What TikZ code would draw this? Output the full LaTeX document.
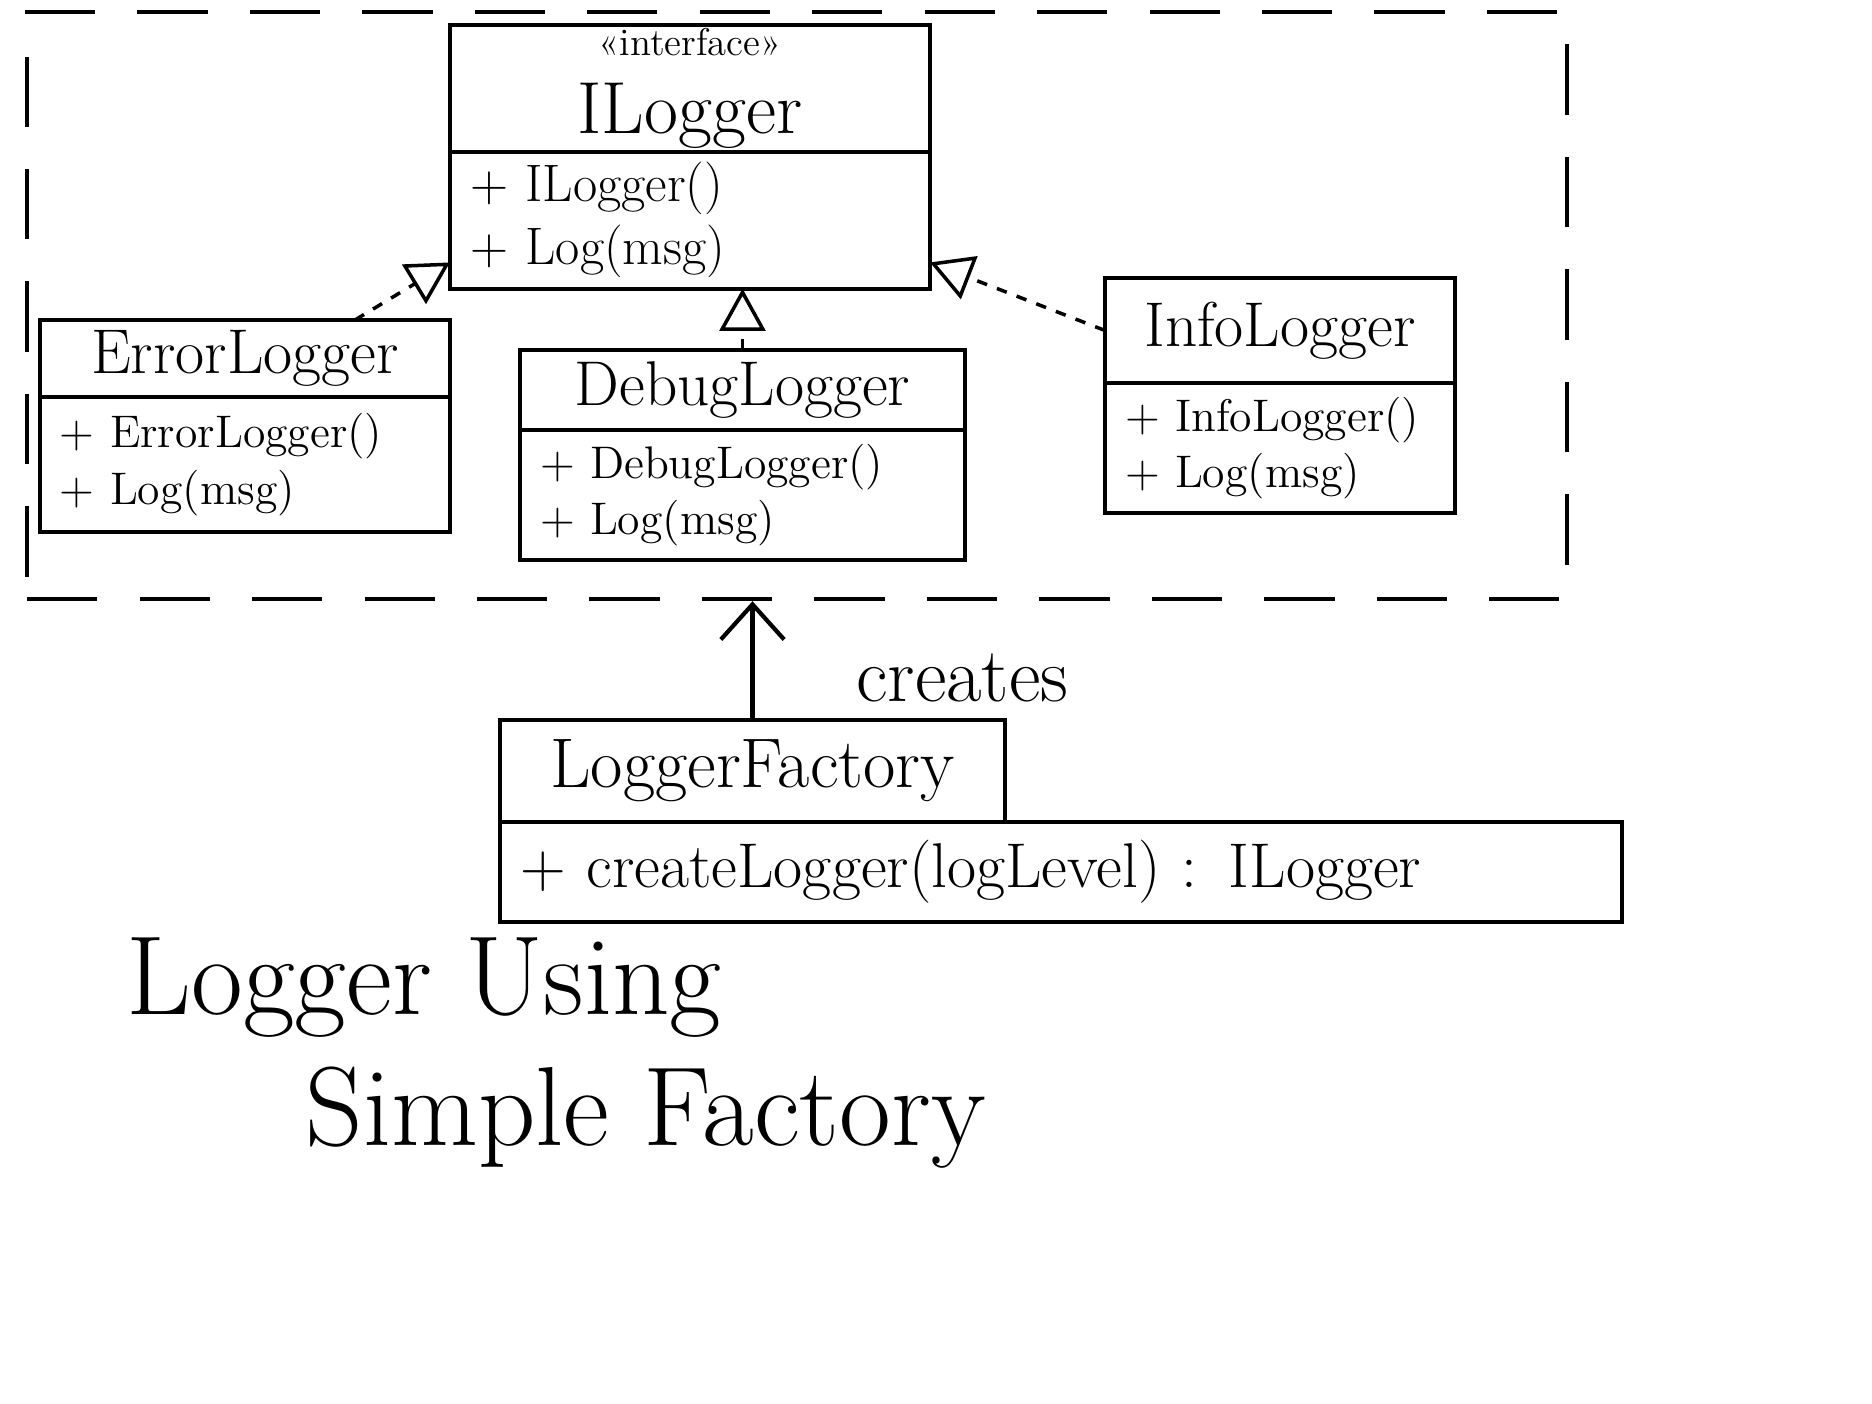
\documentclass[tikz,border=0pt]{standalone}
\usetikzlibrary{arrows.meta}

\def\namefont{\fontsize{18}{21}\selectfont}
\def\opfont{\fontsize{13}{16}\selectfont}

\begin{document}
\begin{tikzpicture}[x=1cm, y=-1cm, line width=1.2pt]
    \tikzstyle{head}=[draw, anchor=north west, align=center, inner sep=3pt, outer sep=0pt, font=\namefont]
    \tikzstyle{body}=[draw, anchor=north west, align=left, inner xsep=0.2cm, inner ysep=4pt, outer sep=0pt, font=\opfont]
    \tikzstyle{realize}=[draw, dashed, line width=1pt, -{Triangle[open,length=12pt,width=13pt]}]
    \tikzstyle{package}=[draw, dash pattern=on 20pt off 12pt, anchor=north west, inner sep=0pt]
    \tikzstyle{annot}=[anchor=base west, font=\fontsize{32}{38}\selectfont]

    \useasboundingbox (0,0) rectangle (18.72,14.04);

    % Draw the package frame round the loggers
    \node[package, minimum width=15.4cm, minimum height=5.87cm] (pkg) at (0.25,0.1) {};

    % Draw the interface
    \node[head, minimum width=4.8cm, minimum height=1.1cm, inner ysep=1pt, font=\fontsize{21}{22}\selectfont] (I-head) at (4.5,0.25)
        {{\fontsize{11}{13}\selectfont\guillemotleft interface\guillemotright}\\ILogger};
    \node[body, text width=4.4cm, minimum height=1.3cm, inner ysep=3pt, font=\fontsize{15}{18}\selectfont] (I-body) at (I-head.south west)
        {+ ILogger()\\+ Log(msg)};

    % Draw the logger classes
    \foreach \name/\x/\y/\w/\hh/\bh/\cls [evaluate=\w as \tw using \w-0.4] in
        {E/0.4/3.2/4.1/0.7/1.35/Error, D/5.2/3.5/4.45/0.8/1.25/Debug, N/11.05/2.78/3.5/1.05/1.1/Info} {
        \node[head, minimum width=\w cm, minimum height=\hh cm] (\name-head) at (\x,\y) {\cls Logger};
        \node[body, text width=\tw cm, minimum height=\bh cm] (\name-body) at (\name-head.south west)
            {+ \cls Logger()\\+ Log(msg)};
    }

    % Draw the factory
    \node[head, minimum width=5.05cm, minimum height=1.02cm, font=\fontsize{20}{24}\selectfont] (F-head) at (5.0,7.2) {LoggerFactory};
    \node[body, text width=10.82cm, minimum height=1.0cm, font=\fontsize{18}{22}\selectfont] (F-body) at (F-head.south west)
        {+ createLogger(logLevel) : ILogger};

    % Connect every logger with the interface
    \draw[realize] ([xshift=1.1cm]E-head.north) -- (I-body.190);
    \draw[realize] (D-head.north) -- (D-head.north |- I-body.south);
    \draw[realize] (N-head.west) -- (I-body.-10);

    % The factory creates the loggers
    \draw[-{Straight Barb[length=10pt,width=18pt]}] (F-head.north)
        -- node[pos=0.35, anchor=west, xshift=0.9cm, font=\fontsize{22}{26}\selectfont] (creates) {creates}
        (F-head.north |- pkg.south);

    % Annotate the picture
    \node[annot] (title-1) at (1.13,10.15) {Logger Using};
    \node[annot] (title-2) at (2.92,11.46) {Simple Factory};
\end{tikzpicture}
\end{document}
